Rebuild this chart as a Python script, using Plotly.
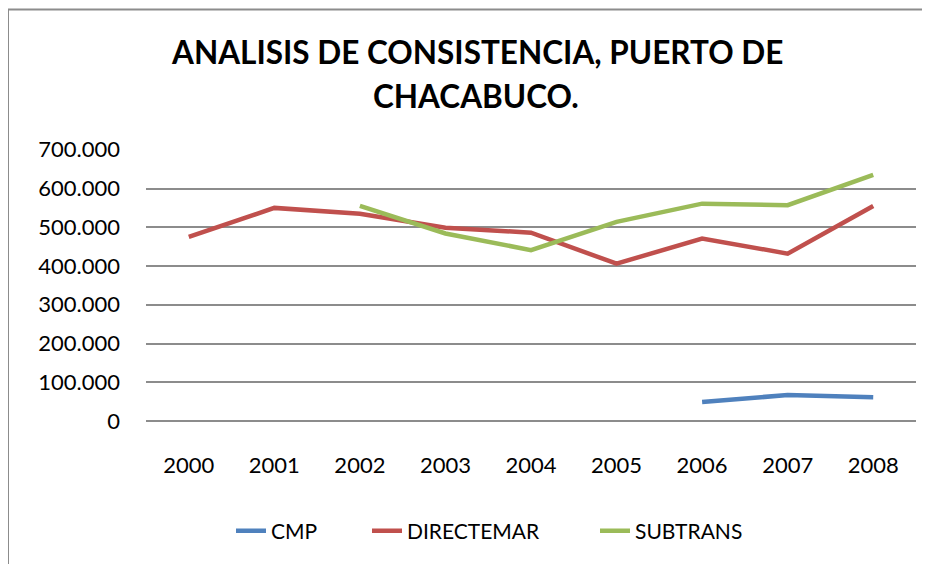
import plotly.graph_objects as go

years = ["2000", "2001", "2002", "2003", "2004", "2005", "2006", "2007", "2008"]
cmp_vals = [None, None, None, None, None, None, 49000, 67000, 61000]
directemar_vals = [475000, 550000, 535000, 499000, 486000, 406000, 471000, 432000, 555000]
subtrans_vals = [None, None, 555000, 484000, 441000, 514000, 561000, 557000, 635000]
ytick_vals = [0, 100000, 200000, 300000, 400000, 500000, 600000, 700000]
ytick_text = ["0", "100.000", "200.000", "300.000", "400.000", "500.000", "600.000", "700.000"]

OFF = 8  # page body margin
W, H = 922, 556
L, R, T, B = 138, 14, 141, 143
pw, ph = W - L - R, H - T - B

def px(x):  # page pixel -> paper
    return (x - OFF - L) / pw

def py(y):
    return (H - B - (y - OFF)) / ph

FONT = "Lato"
fig = go.Figure()
series = [("CMP", cmp_vals, "#4F81BD", "legend", 231),
          ("DIRECTEMAR", directemar_vals, "#C0504D", "legend2", 367),
          ("SUBTRANS", subtrans_vals, "#9BBB59", "legend3", 595)]
for name, vals, col, lg, _ in series:
    fig.add_trace(go.Scatter(x=years, y=vals, name=name, mode="lines", legend=lg,
                             line=dict(color=col, width=4.5), connectgaps=False))

legend_common = dict(orientation="h", yanchor="middle", xanchor="left",
                     font=dict(size=21, family=FONT, color="black"),
                     bgcolor="rgba(0,0,0,0)", itemwidth=30)
legends = {}
for name, _, _, lg, xpos in series:
    legends[lg] = dict(legend_common, x=px(xpos), y=py(531))

fig.update_layout(
    width=W, height=H, margin=dict(l=L, r=R, t=T, b=B),
    paper_bgcolor="white", plot_bgcolor="white",
    font=dict(family=FONT, size=22, color="black"),
    showlegend=True,
    **legends,
    xaxis=dict(type="category", range=[-0.5, 8.5], showgrid=False, showline=False,
               ticks="", ticklabelstandoff=29, zeroline=False),
    yaxis=dict(range=[0, 702000], tickvals=ytick_vals, ticktext=ytick_text,
               showgrid=True, gridcolor="#8C8C8C", gridwidth=1.5,
               zeroline=True, zerolinecolor="#8C8C8C", zerolinewidth=1.5,
               showline=False, ticks="", ticklabelstandoff=25),
    shapes=[
        dict(type="line", xref="paper", yref="paper", x0=px(8), x1=px(8), y0=py(9), y1=py(600),
             line=dict(color="#8C8C8C", width=2)),
        dict(type="line", xref="paper", yref="paper", x0=px(8), x1=px(960), y0=py(9.5), y1=py(9.5),
             line=dict(color="#8C8C8C", width=2)),
    ],
    annotations=[
        dict(text="<b>ANALISIS DE CONSISTENCIA, PUERTO DE</b>", xref="paper", yref="paper",
             x=px(477), y=py(52), xanchor="center", yanchor="middle", showarrow=False,
             font=dict(size=31.5, family=FONT, color="black")),
        dict(text="<b>CHACABUCO.</b>", xref="paper", yref="paper",
             x=px(476), y=py(96), xanchor="center", yanchor="middle", showarrow=False,
             font=dict(size=31.5, family=FONT, color="black")),
    ],
)

fig.write_html("out.html", config={"displayModeBar": False})
